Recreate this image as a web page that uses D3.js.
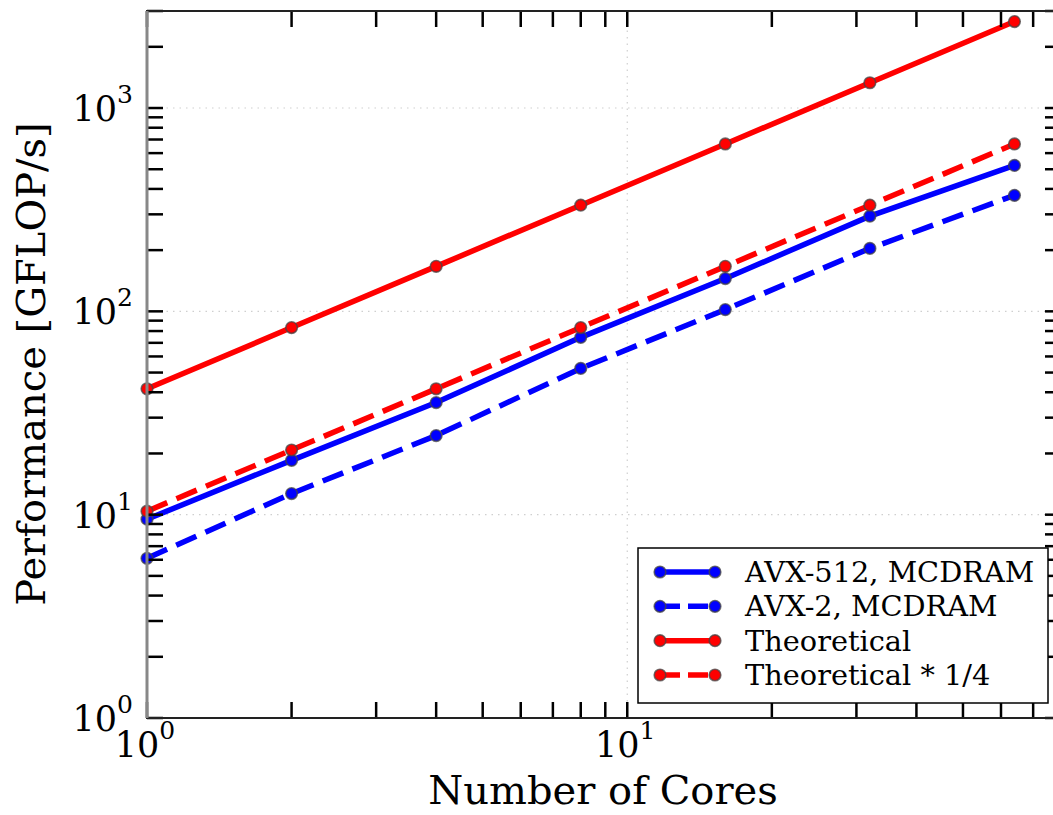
<!DOCTYPE html>
<html>
<head>
<meta charset="utf-8">
<script src="https://cdn.jsdelivr.net/npm/d3@7"></script>
<style>
    body { margin: 0; background: #fff; }
    svg { display: block; font-family: 'DejaVu Serif', serif; }
</style>
</head>
<body>
<svg class="main-chart" width="1053" height="815"></svg>
<script>
// chart data
const cores = [1, 2, 4, 8, 16, 32, 64]
const avx512 = [9.5, 18.5, 35.6, 74.5, 145, 294, 522]
const avx2 = [6.1, 12.7, 24.5, 52.4, 102, 204, 372]
const theoretical = [41.6, 83.2, 166.4, 332.8, 665.6, 1331.2, 2662.4]
const theoreticalQuarter = [10.4, 20.8, 41.6, 83.2, 166.4, 332.8, 665.6]
const seriesNames = ['AVX-512, MCDRAM', 'AVX-2, MCDRAM', 'Theoretical', 'Theoretical * 1/4']
const xMajor = [1, 10]
const yMajor = [1, 10, 100, 1000]

const series = [
    { name: seriesNames[0], values: avx512, color: '#0000ff', dash: null },
    { name: seriesNames[1], values: avx2, color: '#0000ff', dash: '22,10' },
    { name: seriesNames[2], values: theoretical, color: '#ff0000', dash: null },
    { name: seriesNames[3], values: theoreticalQuarter, color: '#ff0000', dash: '22,10' }
]

const svg = d3.select('.main-chart')
const plotLeft = 147, plotRight = 1061, plotTop = 11, plotBottom = 718

const x = d3.scaleLog().domain([1, 80]).range([plotLeft, plotRight])
const y = d3.scaleLog().domain([1, 3000]).range([plotBottom, plotTop])

// minor tick values
const xMinor = []
for (const k of [1, 10]) for (let m = 2; m <= 9; m++) if (m * k < 80) xMinor.push(m * k)
const yMinor = []
for (const k of [1, 10, 100, 1000]) for (let m = 2; m <= 9; m++) if (m * k <= 3000) yMinor.push(m * k)

// dotted grid at major ticks
const grid = svg.append('g').attr('class', 'grid')
grid.selectAll('line.gx')
    .data(xMajor.slice(1))
    .enter().append('line')
    .attr('class', 'gx')
    .attr('x1', d => x(d)).attr('x2', d => x(d))
    .attr('y1', plotTop).attr('y2', plotBottom)
grid.selectAll('line.gy')
    .data(yMajor.slice(1))
    .enter().append('line')
    .attr('class', 'gy')
    .attr('x1', plotLeft).attr('x2', plotRight)
    .attr('y1', d => y(d)).attr('y2', d => y(d))
grid.selectAll('line')
    .attr('stroke', '#cfcfcf')
    .attr('stroke-width', 1.2)
    .attr('stroke-dasharray', '1.5,5')

// series lines and markers
const line = d3.line()
    .x((d, i) => x(cores[i]))
    .y(d => y(d))

series.forEach(s => {
    const g = svg.append('g').attr('class', 'series')
    g.append('path')
        .datum(s.values)
        .attr('d', line)
        .attr('fill', 'none')
        .attr('stroke', s.color)
        .attr('stroke-width', 5.5)
        .attr('stroke-dasharray', s.dash)
    g.selectAll('circle')
        .data(s.values)
        .enter().append('circle')
        .attr('cx', (d, i) => x(cores[i]))
        .attr('cy', d => y(d))
        .attr('r', 5.8)
        .attr('fill', s.color)
        .attr('stroke', '#444')
        .attr('stroke-opacity', 0.75)
        .attr('stroke-width', 1.6)
})

// ticks on all four sides, pointing inward
const ticks = svg.append('g').attr('class', 'ticks')
    .attr('stroke', '#000').attr('stroke-width', 2.5)
const tickLen = 16
const xTicks = xMajor.concat(xMinor)
const yTicks = yMajor.concat(yMinor)
ticks.selectAll('line.xb')
    .data(xTicks).enter().append('line')
    .attr('class', 'xb')
    .attr('x1', d => x(d)).attr('x2', d => x(d))
    .attr('y1', plotBottom).attr('y2', plotBottom - tickLen)
ticks.selectAll('line.xt')
    .data(xTicks).enter().append('line')
    .attr('class', 'xt')
    .attr('x1', d => x(d)).attr('x2', d => x(d))
    .attr('y1', plotTop).attr('y2', plotTop + tickLen)
ticks.selectAll('line.yl')
    .data(yTicks).enter().append('line')
    .attr('class', 'yl')
    .attr('x1', plotLeft).attr('x2', plotLeft + tickLen)
    .attr('y1', d => y(d)).attr('y2', d => y(d))
ticks.selectAll('line.yr')
    .data(yTicks).enter().append('line')
    .attr('class', 'yr')
    .attr('x1', plotRight).attr('x2', plotRight - tickLen)
    .attr('y1', d => y(d)).attr('y2', d => y(d))

// frame
svg.append('rect')
    .attr('x', plotLeft).attr('y', plotTop)
    .attr('width', plotRight - plotLeft).attr('height', plotBottom - plotTop)
    .attr('fill', 'none')
    .attr('stroke', '#222')
    .attr('stroke-width', 2)
svg.append('line')
    .attr('x1', plotLeft).attr('x2', plotLeft)
    .attr('y1', plotTop).attr('y2', plotBottom)
    .attr('stroke', '#888')
    .attr('stroke-width', 3)

// tick labels as 10^k
const exp = d => Math.round(Math.log10(d))
const xLabels = svg.append('g').attr('class', 'x-labels')
xLabels.selectAll('text')
    .data(xMajor).enter().append('text')
    .attr('x', d => x(d) - 2)
    .attr('y', plotBottom + 39)
    .attr('text-anchor', 'middle')
    .attr('font-size', 35)
    .each(function (d) {
        const t = d3.select(this)
        t.append('tspan').text('10')
        t.append('tspan').attr('font-size', 25).attr('dy', -18).text(exp(d))
    })

const yLabels = svg.append('g').attr('class', 'y-labels')
yLabels.selectAll('text')
    .data(yMajor).enter().append('text')
    .attr('x', plotLeft - 14)
    .attr('y', d => y(d) + 13)
    .attr('text-anchor', 'end')
    .attr('font-size', 35)
    .each(function (d) {
        const t = d3.select(this)
        t.append('tspan').text('10')
        t.append('tspan').attr('font-size', 25).attr('dy', -18).text(exp(d))
    })

// axis titles
svg.append('text')
    .attr('x', 603)
    .attr('y', 804)
    .attr('text-anchor', 'middle')
    .attr('font-size', 40)
    .text('Number of Cores')
svg.append('text')
    .attr('transform', 'translate(45,364) rotate(-90)')
    .attr('text-anchor', 'middle')
    .attr('font-size', 40)
    .text('Performance [GFLOP/s]')

// legend
const legend = svg.append('g').attr('class', 'legend')
legend.append('rect')
    .attr('x', 638).attr('y', 548)
    .attr('width', 410).attr('height', 155)
    .attr('fill', '#fff')
    .attr('stroke', '#000')
    .attr('stroke-width', 1.5)
const rowY = d3.scalePoint().domain(seriesNames).range([572, 675])
const item = legend.selectAll('g.item')
    .data(series).enter().append('g')
    .attr('class', 'item')
    .attr('transform', d => `translate(0,${rowY(d.name)})`)
item.append('line')
    .attr('x1', 660).attr('x2', 715)
    .attr('stroke', d => d.color)
    .attr('stroke-width', 5.5)
    .attr('stroke-dasharray', d => d.dash ? '20,8' : null)
item.selectAll('circle')
    .data(d => [d, d]).enter().append('circle')
    .attr('cx', (d, i) => i === 0 ? 660 : 715)
    .attr('r', 5.8)
    .attr('fill', d => d.color)
    .attr('stroke', '#444')
    .attr('stroke-opacity', 0.75)
    .attr('stroke-width', 1.6)
item.append('text')
    .attr('x', 745)
    .attr('y', 10)
    .attr('font-size', 28.8)
    .text(d => d.name)
</script>
</body>
</html>
